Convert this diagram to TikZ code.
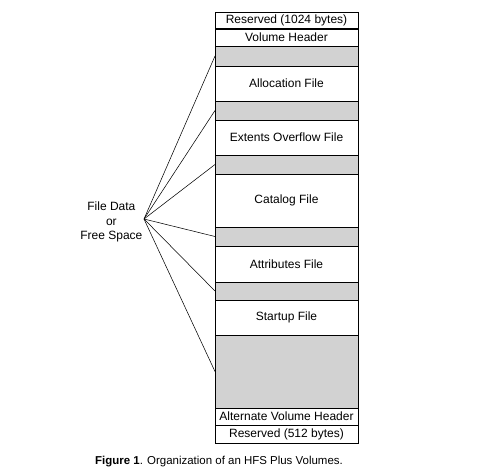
\documentclass[tikz,border=0pt]{standalone}
\usepackage{fontspec}
\setmainfont{Liberation Sans}
\usetikzlibrary{positioning}

\tikzset{
  cell/.style={draw, fill=white, minimum width=0.75pt*143, inner sep=0pt, outer sep=0pt, font=\fontsize{9}{10}\selectfont},
  gap/.style={cell, fill=gray!35},
}

\begin{document}
\begin{tikzpicture}[x=0.75pt,y=-0.75pt]
    \useasboundingbox (0,0) rectangle (488,475);
    % volume layout
    \node[cell, minimum height=0.75pt*17, anchor=north west] (res1) at (215,12) {Reserved (1024 bytes)};
    \node[cell, minimum height=0.75pt*17, below=0pt of res1] (vhdr) {Volume Header};
    \node[gap, minimum height=0.75pt*20, below=0pt of vhdr] (gap1) {};
    \node[cell, minimum height=0.75pt*35, below=0pt of gap1] (alloc) {Allocation File};
    \node[gap, minimum height=0.75pt*19, below=0pt of alloc] (gap2) {};
    \node[cell, minimum height=0.75pt*35, below=0pt of gap2] (extents) {Extents Overflow File};
    \node[gap, minimum height=0.75pt*19, below=0pt of extents] (gap3) {};
    \node[cell, minimum height=0.75pt*53, below=0pt of gap3] (catalog) {Catalog File};
    \node[gap, minimum height=0.75pt*19, below=0pt of catalog] (gap4) {};
    \node[cell, minimum height=0.75pt*36, below=0pt of gap4] (attr) {Attributes File};
    \node[gap, minimum height=0.75pt*18, below=0pt of attr] (gap5) {};
    \node[cell, minimum height=0.75pt*35, below=0pt of gap5] (startup) {Startup File};
    \node[gap, minimum height=0.75pt*73, below=0pt of startup] (gap6) {};
    \node[cell, minimum height=0.75pt*17, below=0pt of gap6] (altvhdr) {Alternate Volume Header};
    \node[cell, minimum height=0.75pt*18, below=0pt of altvhdr] (res2) {Reserved (512 bytes)};
    \draw[line width=1pt] (res1.south west) -- (res1.south east);
    % free space fan
    \coordinate (free) at (144,219);
    \node[anchor=east, align=center, inner sep=1pt, font=\fontsize{9}{11}\selectfont] (freelabel) at (144,222) {File Data\\or\\Free Space};
    \foreach \g in {gap1,gap2,gap3,gap4,gap5,gap6}
      \draw (free) -- (\g.west);
    % caption
    \node[font=\fontsize{8.6}{10}\selectfont] (caption) at (219,462) {\textbf{Figure 1}. Organization of an HFS Plus Volumes.};
  \end{tikzpicture}
\end{document}
